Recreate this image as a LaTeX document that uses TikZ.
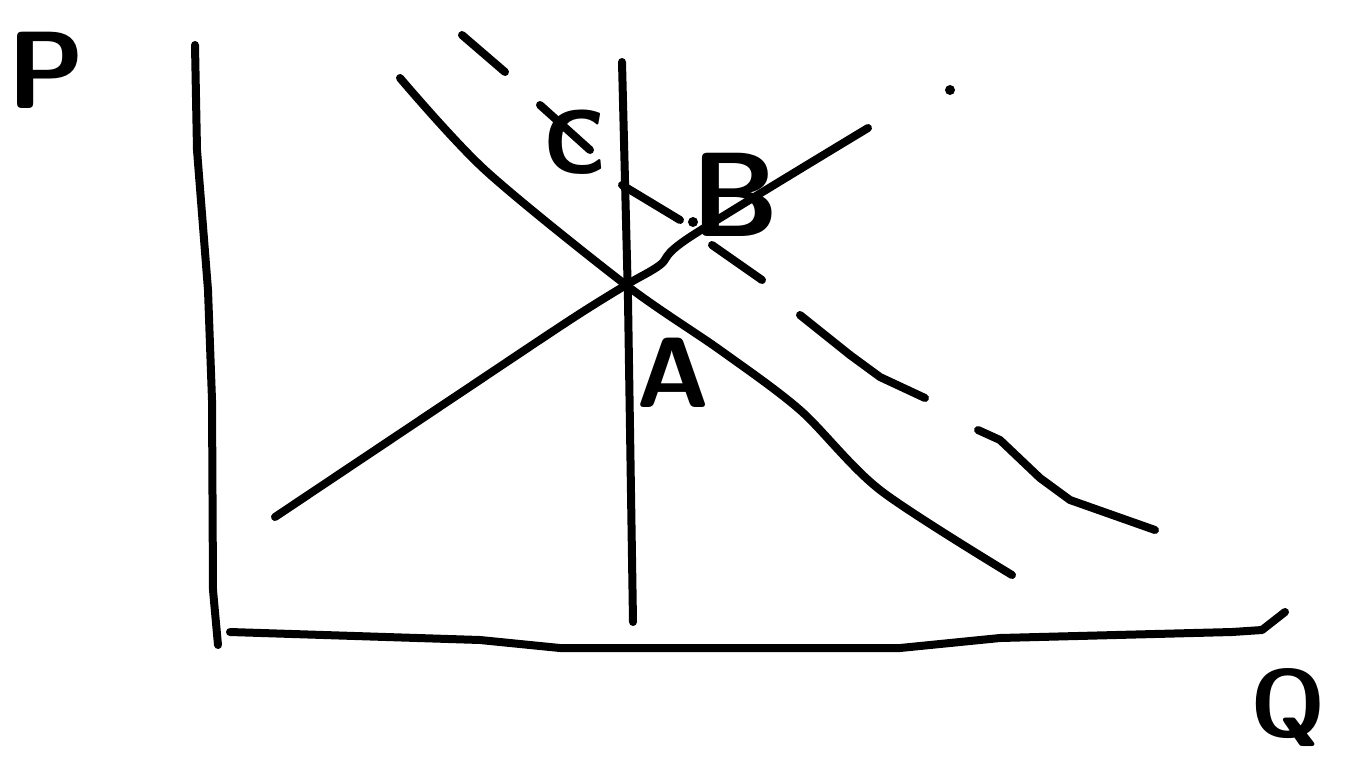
\documentclass[tikz,border=0pt]{standalone}
\usepackage{tikz}
\tikzset{
  pen/.style={line width=8pt, line cap=round, line join=round},
  letter/.style={font=\sffamily\bfseries\fontsize{#1}{#1}\selectfont, inner sep=0pt}
}
\begin{document}
\begin{tikzpicture}[x=1pt,y=-1pt]
				\useasboundingbox (0,0) rectangle (1368,764);
				% axes
				\draw[pen] (195,45) -- (197,150) -- (208,290) -- (212,400) -- (213,590) -- (218,645);
				\draw[pen] (230,632) -- (480,640) -- (560,648) -- (900,648) -- (1000,638) -- (1232,632) -- (1262,630) -- (1285,612);
				% vertical supply
				\draw[pen] (622,62) -- (628,300) -- (633,622);
				% demand
				\draw[pen] plot[smooth] coordinates {(400,78) (485,170) (626,285) (720,350) (800,410) (880,490) (1012,575)};
				% supply
				\draw[pen] plot[smooth] coordinates {(275,517) (450,400) (570,320) (626,285) (660,265) (690,237) (868,128)};
				% shifted demand, dashed by hand
				\foreach \a/\b in {{(462,35)}/{(505,72)},{(540,105)}/{(590,150)},{(622,185)}/{(680,220)},{(712,245)}/{(762,280)},{(800,315)}/{(850,355)}}
				\draw[pen] \a -- \b;
				\draw[pen] (850,355) -- (880,377) -- (925,398);
				\draw[pen] (978,430) -- (1000,440) -- (1040,478) -- (1070,500) -- (1155,530);
				\fill (693,222) circle (5);
				\fill (950,90) circle (5);
				% labels
				\node[letter=110] (labP) at (46,70) {P};
				\node[letter=95] (labQ) at (1288,708) {Q};
				\node[letter=100] (labA) at (673,373) {A};
				\node[letter=120] (labB) at (735,195) {B};
				\node[letter=90] (labC) at (575,142) {C};
			\end{tikzpicture}
\end{document}
